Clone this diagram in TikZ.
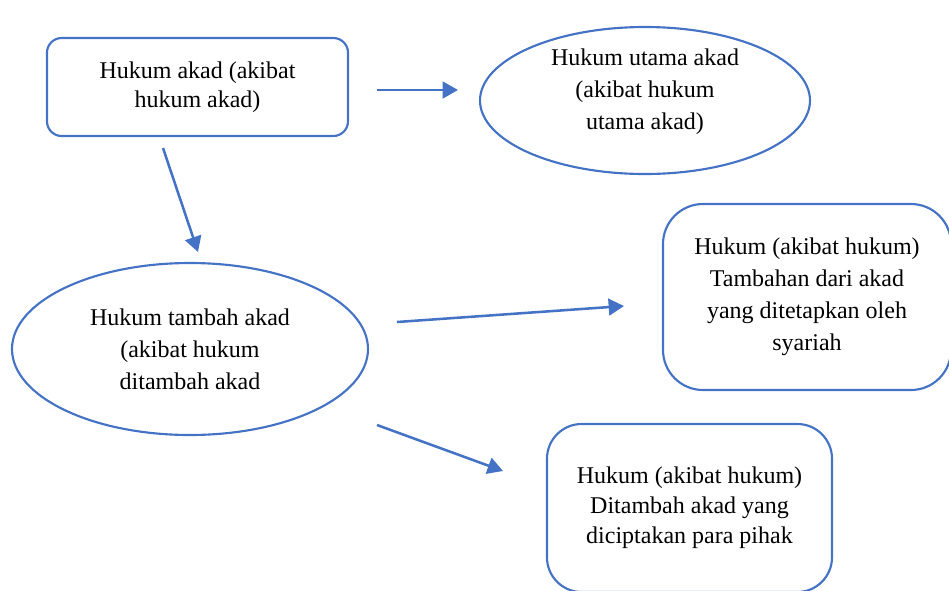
\documentclass[tikz,border=0pt]{standalone}
\usepackage{fontspec}
\setmainfont{Liberation Serif}
\usepackage{tikz}
\usetikzlibrary{shapes,arrows.meta}
\definecolor{wordblue}{HTML}{4472C4}
\tikzstyle{every picture}+=[remember picture]

\begin{document}
\begin{tikzpicture}[x=0.75pt,y=-0.75pt]
\useasboundingbox (0,0) rectangle (949,590);
\clip (0,0) rectangle (949,590);

\tikzstyle{kotak} = [draw=wordblue,line width=1.6pt,rectangle,inner sep=0pt,
        align=center,font=\fontsize{18}{24}\selectfont]
\tikzstyle{elips} = [draw=wordblue,line width=1.6pt,ellipse,inner sep=0pt,
        align=center,font=\fontsize{18}{24}\selectfont]
\tikzstyle{panah} = [draw=wordblue,line width=1.9pt,-{Triangle[length=11.5pt,width=12.5pt]}]

\begin{scope}
\path (197.5,87) node[kotak,rounded corners=11pt,minimum width=225.75pt,minimum height=73.5pt,
        font=\fontsize{18}{22}\selectfont]
        (hukumakad) {Hukum akad (akibat\\hukum akad)};
\path (645,100.5) node[elips,minimum width=247.5pt,minimum height=110.25pt]
        (hukumutama) {};
\path (645,92) node[align=center,font=\fontsize{18}{24}\selectfont]
        (teksutama) {Hukum utama akad\\(akibat hukum\\utama akad)};
\path (190,349) node[elips,minimum width=267pt,minimum height=129pt]
        (hukumtambah) {Hukum tambah akad\\(akibat hukum\\ditambah akad};
\end{scope}

\begin{scope}
\path (807,297) node[kotak,rounded corners=30pt,minimum width=216pt,minimum height=139.5pt]
        (syariah) {Hukum (akibat hukum)\\Tambahan dari akad\\yang ditetapkan oleh\\syariah};
\path (689.5,508) node[kotak,rounded corners=26pt,minimum width=213.75pt,minimum height=126pt,
        font=\fontsize{18}{22.5}\selectfont]
        (pihak) {Hukum (akibat hukum)\\Ditambah akad yang\\diciptakan para pihak};
\end{scope}

% ujung panah
\coordinate (p1a) at (377,90);
\coordinate (p1b) at (458,90);
\coordinate (p2a) at (163,148);
\coordinate (p2b) at (198,252);
\coordinate (p3a) at (397,322);
\coordinate (p3b) at (624,306);
\coordinate (p4a) at (377,425);
\coordinate (p4b) at (503,471);

\draw[panah] (p1a) -- (p1b);
\draw[panah] (p2a) -- (p2b);
\draw[panah] (p3a) -- (p3b);
\draw[panah] (p4a) -- (p4b);

\end{tikzpicture}
\end{document}
